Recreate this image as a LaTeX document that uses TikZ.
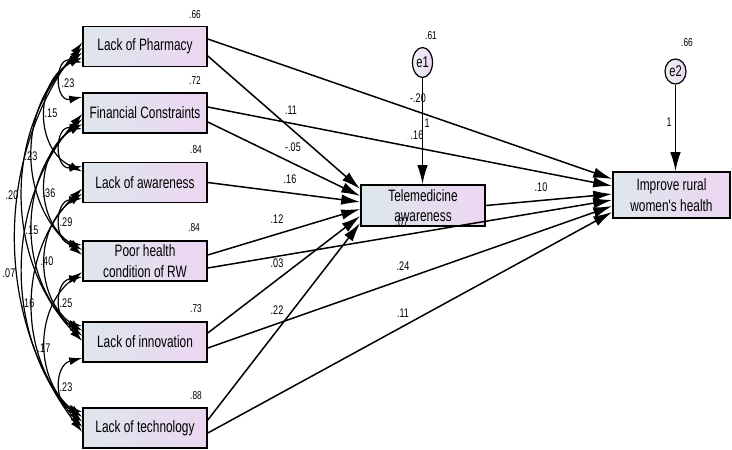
\documentclass[tikz,border=0pt]{standalone}
\usepackage{fontspec}
\newfontfamily\lbfont{Liberation Sans}[FakeStretch=0.72]
\usetikzlibrary{arrows.meta,shapes.geometric}
\definecolor{boxL}{RGB}{221,231,235}
\definecolor{boxR}{RGB}{236,214,242}
\begin{document}
\begin{tikzpicture}[x=1pt,y=-1pt,
  box/.style={draw=black, line width=1.6pt, left color=boxL, right color=boxR,
    minimum width=124pt, minimum height=40pt, inner sep=0pt, align=center,
    font=\lbfont\fontsize{16.5}{20.5}\selectfont},
  err/.style={ellipse, draw=black, line width=1.2pt, left color=boxL!50!white, right color=boxR,
    inner sep=0pt, font=\lbfont\fontsize{15.5}{15.5}\selectfont},
  reg/.style={draw, line width=1.5pt, -{Latex[length=19pt,width=10.5pt]}},
  cov/.style={draw, line width=1.2pt, {Latex[length=13pt,width=8pt]}-{Latex[length=13pt,width=8pt]}},
  num/.style={inner sep=0pt, font=\lbfont\fontsize{12.5}{12.5}\selectfont},
  var/.style={inner sep=0pt, font=\lbfont\fontsize{11.5}{11.5}\selectfont}]
\useasboundingbox (0,0) rectangle (732,450);
\clip (0,0) rectangle (732,450);

% boxes
\node[box] (ph) at (145,46.5) {Lack of Pharmacy};
\node[box] (fc) at (145,113) {Financial Constraints};
\node[box] (la) at (145,182.5) {Lack of awareness};
\node[box] (po) at (145,261) {Poor health\\condition of RW};
\node[box] (li) at (145,342) {Lack of innovation};
\node[box] (lt) at (145,428) {Lack of technology};
\node[box, minimum height=41pt] (tm) at (423,205.5) {Telemedicine\\awareness};
\node[box, minimum width=117pt, minimum height=46pt] (ir) at (671.5,195) {Improve rural\\women's health};
\node[err, minimum width=20pt, minimum height=30pt] (e1) at (422.5,62.5) {e1};
\node[err, minimum width=21pt, minimum height=25pt] (e2) at (675.5,71.5) {e2};

% regression paths
\draw[reg] ([yshift=7.5pt]ph.east) -- ([yshift=16pt]ir.west);
\draw[reg] ([yshift=-9.5pt]ph.east) -- ([yshift=16.5pt]tm.west);
\draw[reg] ([yshift=6pt]fc.east) -- ([yshift=9pt]ir.west);
\draw[reg] ([yshift=-9pt]fc.east) -- ([yshift=9.5pt]tm.west);
\draw[reg] (la.east) -- ([yshift=3.5pt]tm.west);
\draw[reg] ([yshift=6pt]po.east) -- ([yshift=-3.5pt]tm.west);
\draw[reg] ([yshift=-7pt]po.east) -- ([yshift=-5pt]ir.west);
\draw[reg] ([yshift=9pt]li.east) -- ([yshift=-10.5pt]tm.west);
\draw[reg] ([yshift=-6pt]li.east) -- ([yshift=-11pt]ir.west);
\draw[reg] ([yshift=8pt]lt.east) -- ([yshift=-17.5pt]tm.west);
\draw[reg] ([yshift=-5pt]lt.east) -- ([yshift=-17pt]ir.west);
\draw[reg] (tm.east) -- ([yshift=1pt]ir.west);
\draw[reg] (e1.south) -- (e1.south |- tm.north);
\draw[reg] (e2.south) -- (e2.south |- ir.north);

% covariances
\draw[cov] ([yshift=-16pt]ph.west) .. controls +(-28,-5.5) and +(-28,5.5) .. ([yshift=16pt]fc.west);
\draw[cov] ([yshift=-11pt]ph.west) .. controls +(-48,22.8) and +(-48,-22.8) .. ([yshift=11pt]la.west);
\draw[cov] ([yshift=-6pt]ph.west) .. controls +(-65.3,51.8) and +(-65.3,-51.8) .. ([yshift=6pt]po.west);
\draw[cov] ([yshift=-1pt]ph.west) .. controls +(-78.7,82.1) and +(-78.7,-82.1) .. ([yshift=1pt]li.west);
\draw[cov] ([yshift=4pt]ph.west) .. controls +(-88,115.1) and +(-88,-115.1) .. ([yshift=-4pt]lt.west);
\draw[cov] ([yshift=-16pt]fc.west) .. controls +(-28,-3.2) and +(-28,3.2) .. ([yshift=16pt]la.west);
\draw[cov] ([yshift=-11pt]fc.west) .. controls +(-48,28.3) and +(-48,-28.3) .. ([yshift=11pt]po.west);
\draw[cov] ([yshift=-6pt]fc.west) .. controls +(-65.3,57.6) and +(-65.3,-57.6) .. ([yshift=6pt]li.west);
\draw[cov] ([yshift=-1pt]fc.west) .. controls +(-78.7,89.6) and +(-78.7,-89.6) .. ([yshift=1pt]lt.west);
\draw[cov] ([yshift=-16pt]la.west) .. controls +(-28,2.9) and +(-28,-2.9) .. ([yshift=16pt]po.west);
\draw[cov] ([yshift=-11pt]la.west) .. controls +(-48,33.3) and +(-48,-33.3) .. ([yshift=11pt]li.west);
\draw[cov] ([yshift=-6pt]la.west) .. controls +(-65.3,64) and +(-65.3,-64) .. ([yshift=6pt]lt.west);
\draw[cov] ([yshift=-16pt]po.west) .. controls +(-28,4.3) and +(-28,-4.3) .. ([yshift=16pt]li.west);
\draw[cov] ([yshift=-11pt]po.west) .. controls +(-48,36.4) and +(-48,-36.4) .. ([yshift=11pt]lt.west);
\draw[cov] ([yshift=-16pt]li.west) .. controls +(-28,7.1) and +(-28,-7.1) .. ([yshift=16pt]lt.west);

% variance labels
\node[var] (v1) at (195,15) {.66};
\node[var] (v2) at (195,80) {.72};
\node[var] (v3) at (196,150) {.84};
\node[var] (v4) at (194,228) {.84};
\node[var] (v5) at (196,309) {.73};
\node[var] (v6) at (196,396) {.88};
\node[var] (v7) at (431,36) {.61};
\node[var] (v8) at (687,43) {.66};

% path labels
\node[num] (p1) at (418,98) {-.20};
\node[num] (p2) at (417,135) {.16};
\node[num] (p3) at (291,110) {.11};
\node[num] (p4) at (293,147) {-.05};
\node[num] (p5) at (290,179) {.16};
\node[num] (p6) at (277,219) {.12};
\node[num] (p7) at (277,263) {.03};
\node[num] (p8) at (277,310) {.22};
\node[num] (p9) at (403,266) {.24};
\node[num] (p10) at (403,313) {.11};
\node[num] (p11) at (541,187) {.10};
\node[num] (p12) at (402,222) {.07};
\node[num] (p13) at (427,123) {1};
\node[num] (p14) at (669,122) {1};

% covariance labels
\node[num] (c1) at (68,83) {.23};
\node[num] (c2) at (51,113) {.15};
\node[num] (c3) at (31,156) {.23};
\node[num] (c4) at (12,195) {.20};
\node[num] (c5) at (49,193) {.36};
\node[num] (c6) at (66,222) {.29};
\node[num] (c7) at (32,230) {.15};
\node[num] (c8) at (47,261) {.40};
\node[num] (c9) at (9,273) {.07};
\node[num] (c10) at (28,303) {.16};
\node[num] (c11) at (66,303) {.25};
\node[num] (c12) at (44,348) {.17};
\node[num] (c13) at (66,387) {.23};
\end{tikzpicture}
\end{document}
